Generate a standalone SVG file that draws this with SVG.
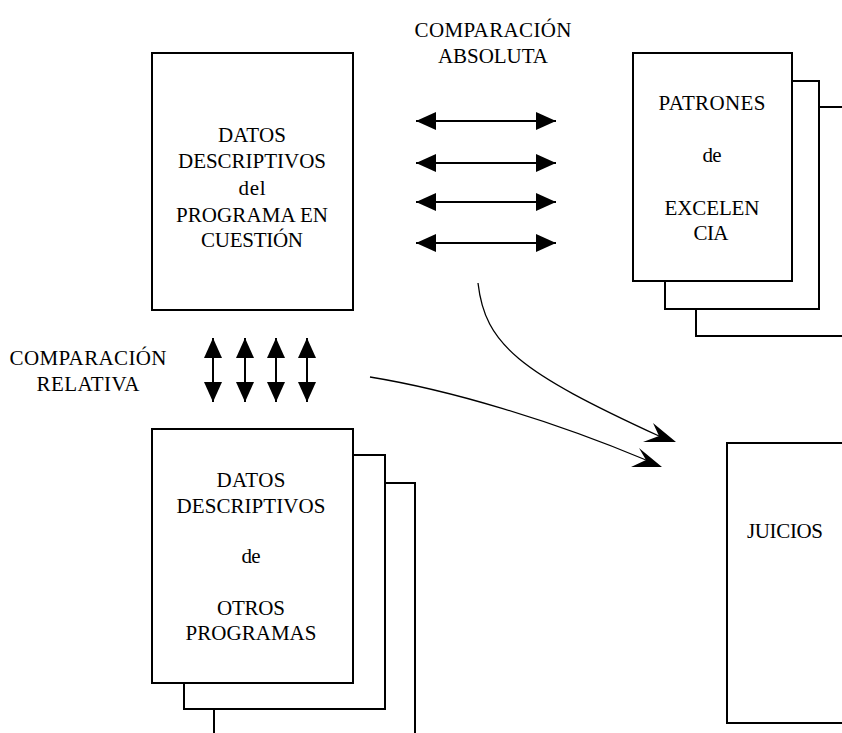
<svg xmlns="http://www.w3.org/2000/svg" width="842" height="733" viewBox="0 0 842 733">
<defs>
<style>
.box{fill:#fff;stroke:#000;stroke-width:2}
.t{font-family:"Liberation Serif","Times New Roman",serif;font-size:21px;fill:#000;text-anchor:middle}
.tl{font-family:"Liberation Serif","Times New Roman",serif;font-size:21px;fill:#000}
.arr{stroke:#000;stroke-width:2;fill:none;marker-start:url(#ah);marker-end:url(#ah)}
.cv{stroke:#000;stroke-width:1.3;fill:none}
</style>
<marker id="ah" viewBox="0 0 20 18" refX="20" refY="9" markerWidth="20" markerHeight="18" markerUnits="userSpaceOnUse" orient="auto-start-reverse">
<path d="M0,0 L20,9 L0,18 Z" fill="#000"/>
</marker>
</defs>
<rect width="842" height="733" fill="#fff"/>

<g id="programa">
<rect class="box" x="152" y="53" width="201" height="257"/>
<text class="t" x="252" y="142" textLength="68">DATOS</text>
<text class="t" x="252" y="168" textLength="148">DESCRIPTIVOS</text>
<text class="t" x="252" y="195" textLength="27">del</text>
<text class="t" x="252" y="222" textLength="152">PROGRAMA EN</text>
<text class="t" x="252" y="247" textLength="102">CUESTIÓN</text>
</g>

<g id="patrones">
<rect class="box" x="696" y="107" width="160" height="229"/>
<rect class="box" x="665" y="81" width="154" height="228"/>
<rect class="box" x="633" y="53" width="159" height="228"/>
<text class="t" x="712" y="110" textLength="107">PATRONES</text>
<text class="t" x="712" y="162" textLength="19">de</text>
<text class="t" x="712" y="215" textLength="95">EXCELEN</text>
<text class="t" x="711" y="240" textLength="35">CIA</text>
</g>

<g id="otros">
<rect class="box" x="214" y="483" width="201" height="270"/>
<rect class="box" x="184" y="455" width="201" height="254"/>
<rect class="box" x="152" y="429" width="201" height="254"/>
<text class="t" x="251" y="487" textLength="69">DATOS</text>
<text class="t" x="251" y="513" textLength="149">DESCRIPTIVOS</text>
<text class="t" x="251" y="563" textLength="19">de</text>
<text class="t" x="251" y="615" textLength="68">OTROS</text>
<text class="t" x="251" y="640" textLength="131">PROGRAMAS</text>
</g>

<g id="juicios">
<rect class="box" x="727" y="443" width="130" height="280"/>
<text class="tl" x="747" y="538" textLength="76">JUICIOS</text>
</g>

<g id="label-absoluta">
<text class="t" x="493" y="37" textLength="157">COMPARACIÓN</text>
<text class="t" x="493" y="63" textLength="110">ABSOLUTA</text>
</g>

<g id="label-relativa">
<text class="t" x="88" y="365" textLength="157">COMPARACIÓN</text>
<text class="t" x="88" y="391" textLength="103">RELATIVA</text>
</g>

<g id="connectors">
<line class="arr" x1="416" y1="121" x2="556" y2="121"/>
<line class="arr" x1="416" y1="163" x2="556" y2="163"/>
<line class="arr" x1="416" y1="202" x2="556" y2="202"/>
<line class="arr" x1="416" y1="243" x2="556" y2="243"/>
<line class="arr" x1="213" y1="338" x2="213" y2="402"/>
<line class="arr" x1="245" y1="338" x2="245" y2="402"/>
<line class="arr" x1="276" y1="338" x2="276" y2="402"/>
<line class="arr" x1="307" y1="338" x2="307" y2="402"/>
<path class="cv" d="M478,283 C485,345 520,372 659,436"/>
<polygon points="653,423 676,442 643,442 659,436" fill="#000"/>
<path class="cv" d="M370,377 C450,390 550,420 646,460"/>
<polygon points="639,448 662,467 631,467 646,460" fill="#000"/>
</g>
</svg>
